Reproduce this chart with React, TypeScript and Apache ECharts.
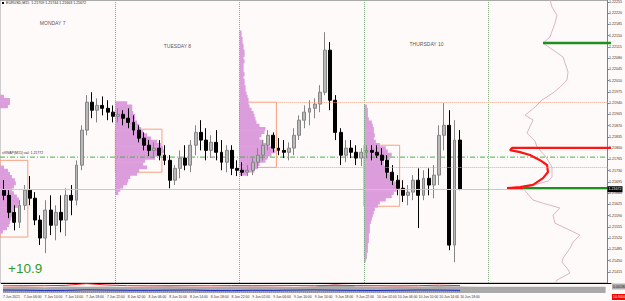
import React, { useEffect, useRef } from 'react';
import * as echarts from 'echarts';

// ---------------- texts ----------------
const TITLE = 'EURUSD,M15  1.21709 1.21744 1.21663 1.21672';
const RESULT_TEXT = '+10.9';
const VWAP_TEXT = 'xVWAP(M15) val: 1.21772';
const STRIP_LABEL_GREY = '0.00180';
const STRIP_LABEL_RED = '10.9000';

// ---------------- hourly candles (7 Jun 02:00 .. 10 Jun 18:00) ----------------
const FIRST_BAR_HOUR = 2; // hours counted from 7 Jun 00:00
const OPEN = [
  1.21669, 1.21653, 1.21600, 1.21569, 1.21622, 1.21669, 1.21644, 1.21576, 1.21520, 1.21607, 1.21560, 1.21600, 1.21576, 1.21653, 1.21638, 1.21747, 1.21856, 1.21943, 1.21918, 1.21933, 1.21924, 1.21912,
  1.21899, 1.21905, 1.21893, 1.21880, 1.21856, 1.21831, 1.21809, 1.21793, 1.21800, 1.21778, 1.21762, 1.21700, 1.21737, 1.21769, 1.21747, 1.21809, 1.21849, 1.21825, 1.21793, 1.21818, 1.21787, 1.21756, 1.21793, 1.21737,
  1.21731, 1.21725, 1.21731, 1.21756, 1.21778, 1.21809, 1.21840, 1.21800, 1.21793, 1.21787, 1.21800, 1.21840, 1.21887, 1.21912, 1.21924, 1.21937, 1.21974, 1.22105, 1.21949, 1.21849, 1.21778, 1.21800, 1.21787, 1.21769,
  1.21787, 1.21793, 1.21787, 1.21778, 1.21762, 1.21725, 1.21700, 1.21675, 1.21653, 1.21663, 1.21700, 1.21653, 1.21706, 1.21685, 1.21716, 1.21840, 1.21871, 1.21498, 1.21825,
];
const CLOSE = [
  1.21653, 1.21600, 1.21569, 1.21622, 1.21669, 1.21644, 1.21576, 1.21520, 1.21607, 1.21560, 1.21600, 1.21576, 1.21653, 1.21638, 1.21747, 1.21856, 1.21943, 1.21918, 1.21933, 1.21924, 1.21912, 1.21899,
  1.21905, 1.21893, 1.21880, 1.21856, 1.21831, 1.21809, 1.21793, 1.21800, 1.21778, 1.21762, 1.21700, 1.21737, 1.21769, 1.21747, 1.21809, 1.21849, 1.21825, 1.21793, 1.21818, 1.21787, 1.21756, 1.21793, 1.21737, 1.21731,
  1.21725, 1.21731, 1.21756, 1.21778, 1.21809, 1.21840, 1.21800, 1.21793, 1.21787, 1.21800, 1.21840, 1.21887, 1.21912, 1.21924, 1.21937, 1.21974, 1.22105, 1.21949, 1.21849, 1.21778, 1.21800, 1.21787, 1.21769, 1.21787,
  1.21793, 1.21787, 1.21778, 1.21762, 1.21725, 1.21700, 1.21675, 1.21653, 1.21663, 1.21700, 1.21653, 1.21706, 1.21685, 1.21716, 1.21840, 1.21871, 1.21498, 1.21825, 1.21672,
];
const LOW = [
  1.21638, 1.21582, 1.21544, 1.21551, 1.21607, 1.21622, 1.21560, 1.21498, 1.21473, 1.21529, 1.21513, 1.21538, 1.21526, 1.21591, 1.21622, 1.21731, 1.21840, 1.21893, 1.21880, 1.21902, 1.21887, 1.21880,
  1.21880, 1.21871, 1.21862, 1.21840, 1.21818, 1.21793, 1.21775, 1.21769, 1.21762, 1.21747, 1.21675, 1.21685, 1.21706, 1.21731, 1.21725, 1.21778, 1.21793, 1.21762, 1.21769, 1.21762, 1.21731, 1.21725, 1.21716, 1.21713,
  1.21713, 1.21713, 1.21716, 1.21737, 1.21762, 1.21793, 1.21787, 1.21778, 1.21769, 1.21762, 1.21778, 1.21825, 1.21862, 1.21871, 1.21893, 1.21912, 1.21965, 1.21918, 1.21825, 1.21747, 1.21756, 1.21769, 1.21747, 1.21744,
  1.21769, 1.21762, 1.21769, 1.21747, 1.21706, 1.21685, 1.21653, 1.21632, 1.21622, 1.21638, 1.21551, 1.21638, 1.21653, 1.21644, 1.21685, 1.21793, 1.21482, 1.21445, 1.21669,
];
const HIGH = [
  1.21700, 1.21669, 1.21622, 1.21638, 1.21685, 1.21713, 1.21663, 1.21591, 1.21638, 1.21653, 1.21622, 1.21653, 1.21675, 1.21685, 1.21762, 1.21871, 1.21965, 1.21974, 1.21955, 1.21961, 1.21949, 1.21933,
  1.21924, 1.21918, 1.21924, 1.21902, 1.21871, 1.21849, 1.21825, 1.21818, 1.21825, 1.21809, 1.21778, 1.21747, 1.21793, 1.21809, 1.21825, 1.21871, 1.21887, 1.21862, 1.21840, 1.21856, 1.21825, 1.21809, 1.21809, 1.21762,
  1.21756, 1.21747, 1.21769, 1.21800, 1.21825, 1.21856, 1.21849, 1.21831, 1.21825, 1.21818, 1.21862, 1.21902, 1.21933, 1.21949, 1.21955, 1.21996, 1.22161, 1.22130, 1.21965, 1.21862, 1.21825, 1.21825, 1.21809, 1.21800,
  1.21809, 1.21809, 1.21809, 1.21800, 1.21778, 1.21747, 1.21716, 1.21700, 1.21685, 1.21716, 1.21737, 1.21731, 1.21737, 1.21747, 1.21871, 1.21940, 1.21918, 1.21887, 1.21856,
];

// ---------------- time axis / day markers ----------------
const TIME_LABEL_HOURS = [2, 6, 10, 14, 18, 22, 26, 30, 34, 38, 42, 46, 50, 54, 58, 62, 66, 70, 74, 78, 82, 86, 90];
const DAY_STARTS = [24, 48, 72, 96];
const DAY_LABELS = ['MONDAY 7', 'TUESDAY 8', 'THURSDAY 10'];
const DAY_LABEL_HOURS = [11.9, 36.0, 84.1];
const DAY_LABEL_PRICES = [1.22191, 1.22118, 1.22124];

// ---------------- value areas ----------------
const VA_START = [0, 24, 48, 72];
const VA_END = [7.1, 33.0, 55.1, 78.9];
const VA_HIGH = [1.21762, 1.21859, 1.21943, 1.21809];
const VA_LOW = [1.21523, 1.21725, 1.2174, 1.21619];
const NAKED_FROM = 55.1;
const NAKED_LEVELS = [1.21943, 1.2174];
const VWAP_LEVEL = 1.21772;
const BID = 1.21672;

// ---------------- daily volume profiles: [price, volume] ----------------
const PROFILE_ANCHORS = [0, 24, 48, 72];
const MONDAY_PROFILE = [
  [1.2196, 13], [1.2195, 19], [1.2194, 19], [1.2193, 17],
  [1.2174, 13], [1.2173, 17], [1.2172, 19], [1.2171, 21], [1.217, 24], [1.2169, 25], [1.2168, 23], [1.2167, 21],
  [1.2166, 23], [1.2165, 26], [1.2164, 28], [1.2163, 29], [1.2162, 27], [1.2161, 23], [1.216, 22], [1.2159, 21],
  [1.2158, 20], [1.2157, 19], [1.2156, 18], [1.2155, 16], [1.2154, 12],
];
const TUESDAY_PROFILE = [
  [1.2194, 12], [1.2193, 17], [1.2192, 17], [1.2191, 18], [1.219, 20], [1.2189, 20], [1.2188, 22], [1.2187, 24],
  [1.2186, 26], [1.2185, 28], [1.2184, 32], [1.2183, 36], [1.2182, 42], [1.2181, 46], [1.218, 48], [1.2179, 50],
  [1.2178, 46], [1.2177, 40], [1.2176, 30], [1.2175, 28], [1.2174, 32], [1.2173, 24], [1.2172, 22], [1.2171, 15],
  [1.217, 13], [1.2169, 12], [1.2168, 8], [1.2167, 5], [1.2166, 3],
];
const WEDNESDAY_PROFILE = [
  [1.2216, 2], [1.2215, 2], [1.2214, 3], [1.2213, 3], [1.2212, 4], [1.2211, 4], [1.221, 5], [1.2209, 5],
  [1.2208, 4], [1.2207, 5], [1.2206, 4], [1.2205, 4], [1.2204, 4], [1.2203, 5], [1.2202, 4], [1.2201, 5],
  [1.22, 5], [1.2199, 6], [1.2198, 6], [1.2197, 7], [1.2196, 8], [1.2195, 9], [1.2194, 9], [1.2193, 10],
  [1.2192, 12], [1.2191, 14], [1.219, 15], [1.2189, 16], [1.2188, 17], [1.2187, 20], [1.2186, 26], [1.2185, 25],
  [1.2184, 22], [1.2183, 20], [1.2182, 24], [1.2181, 28], [1.218, 34], [1.2179, 36], [1.2178, 32], [1.2177, 28],
  [1.2176, 26], [1.2175, 20], [1.2174, 18], [1.2173, 15], [1.2172, 8],
];
const THURSDAY_PROFILE = [
  [1.2193, 3], [1.2192, 4], [1.2191, 4], [1.219, 4], [1.2189, 5], [1.2188, 8], [1.2187, 9], [1.2186, 10],
  [1.2185, 10], [1.2184, 11], [1.2183, 10], [1.2182, 12], [1.2181, 16], [1.218, 22], [1.2179, 24], [1.2178, 28],
  [1.2177, 26], [1.2176, 20], [1.2175, 20], [1.2174, 22], [1.2173, 25], [1.2172, 26], [1.2171, 28], [1.217, 30],
  [1.2169, 32], [1.2168, 34], [1.2167, 33], [1.2166, 30], [1.2165, 28], [1.2164, 22], [1.2163, 16], [1.2162, 14],
  [1.2161, 11], [1.216, 10], [1.2159, 9], [1.2158, 8], [1.2157, 7], [1.2156, 6], [1.2155, 6], [1.2154, 6],
  [1.2153, 5], [1.2152, 5], [1.2151, 5], [1.215, 4], [1.2149, 4], [1.2148, 4], [1.2147, 3], [1.2146, 3], [1.2145, 2],
];
const PROFILES = [MONDAY_PROFILE, TUESDAY_PROFILE, WEDNESDAY_PROFILE, THURSDAY_PROFILE];
const PROFILE_ROW = 0.0001;
const HOURS_PER_VOLUME = 0.192;

// ---------------- composite profile at the right ----------------
const CURVE_VOL = [59, 61, 66, 64, 59, 52, 72, 74, 77, 76, 69, 62, 51, 44, 34, 42, 36, 44, 46, 55, 61, 61, 57, 32, 42, 52, 69, 62, 64, 79, 89, 82, 79, 72, 71, 76, 79, 66, 64];
const CURVE_PRICE = [1.2226, 1.22238, 1.22213, 1.22188, 1.22145, 1.22126, 1.22083, 1.22064, 1.22036, 1.22011, 1.21989, 1.21971, 1.21949, 1.21927, 1.21902, 1.21887, 1.21846, 1.21821, 1.21803, 1.21772, 1.2174, 1.21709, 1.21697, 1.21675, 1.21638, 1.21628, 1.21613, 1.21591, 1.21566, 1.21544, 1.21529, 1.21507, 1.21488, 1.21457, 1.21445, 1.21426, 1.21411, 1.21389, 1.2138];
const RED_VOL = [120, 21, 19, 29, 39, 49, 56, 57, 52, 42, 29, 16, 32];
const RED_PRICE = [1.218, 1.218, 1.21793, 1.21787, 1.21778, 1.21762, 1.21747, 1.21725, 1.21706, 1.21685, 1.21678, 1.21675, 1.21675];
const GREEN_TOP_VOL = [52, 120];
const GREEN_TOP_PRICE = 1.22126;
const GREEN_LOW_VOL = [32, 120];
const GREEN_LOW_PRICE = 1.21675;

// ---------------- indicator strip ----------------
const STRIP_HOURS = [2, 6, 10, 14, 18, 22, 26, 30, 34, 38, 42, 46, 50, 54, 58, 62, 66, 70, 74, 78, 82, 86, 90];
const STRIP_RED = [7.2, 7.3, 7.3, 7.6, 9.4, 8.0, 7.3, 7.2, 7.3, 7.3, 7.2, 7.4, 7.3, 7.3, 7.4, 7.3, 7.8, 7.4, 7.3, 7.2, 7.3, 7.8, 7.4];
const STRIP_BLUE = [3.0, 2.8, 2.5, 2.6, 3.2, 2.9, 2.7, 2.6, 2.8, 3.0, 2.5, 2.4, 2.7, 2.6, 2.9, 3.1, 2.8, 2.6, 2.5, 2.7, 3.0, 2.9, 2.6];
const STRIP_MAGENTA = [1.2, 1.0, 1.1, 1.3, 1.0, 1.1, 1.2, 1.0, 1.1, 1.0, 1.2, 1.1, 1.0, 1.1, 1.2, 1.0, 1.1, 1.2, 1.0, 1.1, 1.0, 1.2, 1.1];
const GREY_HOURS = [2, 6, 10, 14, 18, 22, 26, 30, 34, 38, 42, 46, 50, 54, 58, 62, 66, 70, 74, 78, 82, 86, 90, 94, 98, 102, 106, 110, 114, 118];
const STRIP_GREY = [6.0, 6.4, 5.8, 6.6, 6.2, 6.5, 6.1, 6.3, 6.7, 6.2, 6.0, 6.4, 6.6, 6.3, 6.1, 6.5, 8.8, 6.4, 6.2, 6.6, 6.3, 6.9, 6.4, 6.2, 6.2, 6.2, 6.2, 6.2, 6.2, 6.2];

// ---------------- axes ----------------
const X_MIN = 1.73;
const X_MAX = 119.04;
const Y_MIN = 1.2138;
const Y_MAX = 1.2226;
const Y_STEP = 0.00035;

function buildOption(): any {
  const candles = OPEN.map((o, i) => [FIRST_BAR_HOUR + i + 0.5, o, CLOSE[i], LOW[i], HIGH[i]]);
  const profileData: number[][] = [];
  PROFILES.forEach((rows, k) => rows.forEach(([p, v]) => profileData.push([PROFILE_ANCHORS[k], p, v])));

  const orange = '#f6a07c';
  const bidStyle = { type: 'solid', color: '#c8c8c8', width: 1 };
  const bidLabel = {
    show: true, position: 'end', distance: 0, formatter: BID.toFixed(5), backgroundColor: '#000', color: '#fff', fontSize: 3.6, padding: [1, 1, 1, 1],
  };
  const markLines: any[] = [
    ...DAY_STARTS.map((h) => ({ xAxis: h, lineStyle: { type: 'dotted', color: '#82ad82', width: 1 }, label: { show: false } })),
    [
      { coord: [X_MIN, BID], lineStyle: bidStyle, label: bidLabel },
      { coord: [X_MAX, BID], lineStyle: bidStyle, label: bidLabel },
    ],
    ...NAKED_LEVELS.map((p) => [
      { coord: [NAKED_FROM, p], lineStyle: { type: 'dotted', color: orange, width: 1 }, label: { show: false } },
      { coord: [X_MAX, p], lineStyle: { type: 'dotted', color: orange, width: 1 }, label: { show: false } },
    ]),
  ];
  const areas = VA_START.map((s, i) => [
    { coord: [s, VA_HIGH[i]] },
    { coord: [VA_END[i], VA_LOW[i]] },
  ]);

  const fmtTime = (v: number) => {
    if (v === FIRST_BAR_HOUR) return '7 Jun 2021';
    const day = 7 + Math.floor(v / 24);
    const hh = Math.round(v % 24);
    return `${day} Jun ${String(hh).padStart(2, '0')}:00`;
  };

  return {
    animation: false,
    backgroundColor: '#fffafa',
    textStyle: { fontFamily: 'Arial' },
    grid: [
      { left: 0, right: 14, top: 0, bottom: 18, show: true, borderColor: '#a0a0a0', borderWidth: 1 },
      { left: 491, right: 14, top: 0, bottom: 18 },
      { left: 0, right: 14, top: 283, bottom: 8 },
    ],
    xAxis: [
      { type: 'value', gridIndex: 0, min: X_MIN, max: X_MAX, show: false },
      { type: 'value', gridIndex: 1, min: 0, max: 120, show: false },
      {
        type: 'value', gridIndex: 2, min: X_MIN, max: X_MAX, position: 'bottom',
        axisLine: { show: false, onZero: false }, axisTick: { show: false }, splitLine: { show: false },
        axisLabel: { fontSize: 3.4, color: '#333', margin: 2, align: 'left', customValues: TIME_LABEL_HOURS, formatter: fmtTime },
      },
      {
        type: 'value', gridIndex: 2, min: X_MIN, max: X_MAX, position: 'top',
        axisLine: { show: true, onZero: false, lineStyle: { color: '#000', width: 1.2 } },
        axisTick: { show: false }, axisLabel: { show: false }, splitLine: { show: false },
      },
    ],
    yAxis: [
      {
        type: 'value', gridIndex: 0, min: Y_MIN, max: Y_MAX, interval: Y_STEP, position: 'right',
        axisLine: { show: true, onZero: false, lineStyle: { color: '#808080' } },
        axisTick: { show: true, length: 2, lineStyle: { color: '#808080' } },
        splitLine: { show: false },
        axisLabel: { fontSize: 3.6, color: '#333', margin: 1.5, showMinLabel: false, showMaxLabel: false, formatter: (v: number) => v.toFixed(5) },
      },
      { type: 'value', gridIndex: 1, min: Y_MIN, max: Y_MAX, show: false },
      { type: 'value', gridIndex: 2, min: 0, max: 10, show: false },
    ],
    series: [
      {
        type: 'custom', xAxisIndex: 0, yAxisIndex: 0, z: 1, clip: true,
        data: profileData,
        renderItem: (_params: any, api: any) => {
          const a = api.value(0);
          const p = api.value(1);
          const v = api.value(2);
          const p0 = api.coord([Math.max(a, X_MIN), p + PROFILE_ROW / 2]);
          const p1 = api.coord([a + v * HOURS_PER_VOLUME, p - PROFILE_ROW / 2]);
          return {
            type: 'rect',
            shape: { x: p0[0], y: p0[1] - 0.3, width: p1[0] - p0[0], height: p1[1] - p0[1] + 0.6 },
            style: { fill: '#dc9ddc' },
          };
        },
      },
      {
        type: 'line', xAxisIndex: 0, yAxisIndex: 0, showSymbol: false, z: 2, silent: true,
        data: [[X_MIN, VWAP_LEVEL], [X_MAX, VWAP_LEVEL]],
        lineStyle: { color: '#3db83d', width: 1, type: [5, 2, 1, 2] },
      },
      {
        type: 'candlestick', xAxisIndex: 0, yAxisIndex: 0, z: 3, barWidth: 3.4,
        data: candles,
        itemStyle: { color: '#b9b9b9', color0: '#000000', borderColor: '#858585', borderColor0: '#000000', borderWidth: 1 },
        markLine: { silent: true, symbol: ['none', 'none'], data: markLines },
        markArea: { silent: true, itemStyle: { color: 'rgba(0,0,0,0)', borderColor: orange, borderWidth: 1 }, data: areas },
      },
      {
        type: 'scatter', xAxisIndex: 0, yAxisIndex: 0, symbolSize: 0, z: 4,
        data: DAY_LABELS.map((n, i) => ({ name: n, value: [DAY_LABEL_HOURS[i], DAY_LABEL_PRICES[i]] })),
        label: { show: true, position: 'inside', formatter: (p: any) => p.name, fontSize: 5, color: '#222' },
      },
      {
        type: 'line', xAxisIndex: 1, yAxisIndex: 1, showSymbol: false, z: 2,
        data: CURVE_VOL.map((v, i) => [v, CURVE_PRICE[i]]),
        lineStyle: { color: '#dcb6c0', width: 1 },
      },
      {
        type: 'line', xAxisIndex: 1, yAxisIndex: 1, showSymbol: false, z: 3,
        data: RED_VOL.map((v, i) => [v, RED_PRICE[i]]),
        lineStyle: { color: '#ff1414', width: 2.2 },
      },
      {
        type: 'line', xAxisIndex: 1, yAxisIndex: 1, showSymbol: false, z: 3,
        data: GREEN_TOP_VOL.map((v) => [v, GREEN_TOP_PRICE]),
        lineStyle: { color: '#1f8f1f', width: 2.5 },
      },
      {
        type: 'line', xAxisIndex: 1, yAxisIndex: 1, showSymbol: false, z: 4,
        data: GREEN_LOW_VOL.map((v) => [v, GREEN_LOW_PRICE]),
        lineStyle: { color: '#1f8f1f', width: 2.5 },
      },
      {
        type: 'line', xAxisIndex: 2, yAxisIndex: 2, showSymbol: false, z: 1,
        data: GREY_HOURS.map((h, i) => [h, STRIP_GREY[i]]),
        lineStyle: { width: 0 }, areaStyle: { color: '#a9a9a9', opacity: 1 },
      },
      {
        type: 'line', xAxisIndex: 2, yAxisIndex: 2, showSymbol: false, z: 2,
        data: STRIP_HOURS.map((h, i) => [h, STRIP_RED[i]]),
        lineStyle: { color: '#ff2020', width: 1 },
      },
      {
        type: 'line', xAxisIndex: 2, yAxisIndex: 2, showSymbol: false, z: 2,
        data: STRIP_HOURS.map((h, i) => [h, STRIP_BLUE[i]]),
        lineStyle: { color: '#2030c0', width: 1 },
      },
      {
        type: 'line', xAxisIndex: 2, yAxisIndex: 2, showSymbol: false, z: 2,
        data: STRIP_HOURS.map((h, i) => [h, STRIP_MAGENTA[i]]),
        lineStyle: { color: '#e040c0', width: 1, type: 'dotted' },
      },
    ],
    graphic: [
      { type: 'rect', shape: { x: 2, y: 2, width: 2, height: 2 }, style: { fill: '#000' } },
      { type: 'text', x: 6, y: 1, style: { text: TITLE, fontSize: 3.6, fill: '#222', fontFamily: 'Arial' } },
      { type: 'text', x: 2, y: 151, style: { text: VWAP_TEXT, fontSize: 3.5, fill: '#333', fontFamily: 'Arial' } },
      { type: 'text', x: 8, y: 261, style: { text: RESULT_TEXT, fontSize: 13.5, fill: '#2f9a2f', fontFamily: 'Arial' } },
      { type: 'text', x: 612, y: 283.5, style: { text: STRIP_LABEL_GREY, fontSize: 3.6, fill: '#222', backgroundColor: '#b0b0b0', padding: [1, 1, 1, 1], fontFamily: 'Arial' } },
      { type: 'text', x: 612, y: 294, style: { text: STRIP_LABEL_RED, fontSize: 3.6, fill: '#fff', backgroundColor: '#ff0000', padding: [1, 1, 1, 1], fontFamily: 'Arial' } },
    ],
  };
}

export default function App() {
  const ref = useRef<HTMLDivElement>(null);
  useEffect(() => {
    if (!ref.current) return;
    const chart = echarts.init(ref.current, undefined, { renderer: 'svg', width: 625, height: 301 });
    chart.setOption(buildOption());
    return () => chart.dispose();
  }, []);
  return (
    <div
      ref={ref}
      style={{ position: 'fixed', left: 0, top: 0, width: 625, height: 301, background: '#fffafa' }}
    />
  );
}
